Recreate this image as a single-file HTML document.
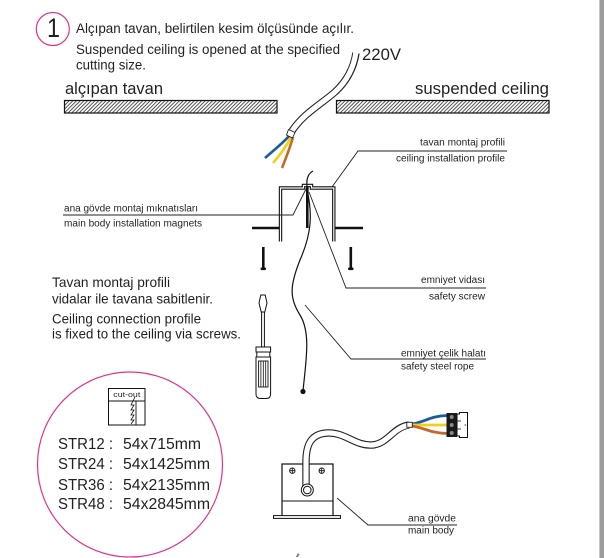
<!DOCTYPE html>
<html><head><meta charset="utf-8">
<style>
html,body{margin:0;padding:0;background:#fff;}
svg{display:block;}
text{font-family:"Liberation Sans",Arial,sans-serif;fill:#231f20;}
</style></head>
<body>
<svg width="604" height="558" viewBox="0 0 604 558" xmlns="http://www.w3.org/2000/svg">
<defs>
<pattern id="h" width="2.6" height="10" patternUnits="userSpaceOnUse" patternTransform="rotate(45)">
<line x1="0.6" y1="0" x2="0.6" y2="10" stroke="#1a1a1a" stroke-width="0.75"/>
</pattern>
</defs>
<rect x="0" y="0" width="604" height="558" fill="#fff"/>
<rect x="599" y="0" width="5" height="558" fill="#9c9c9c"/>
<rect x="599" y="0" width="1" height="558" fill="#c4c4c4"/>

<!-- step number -->
<circle cx="52.8" cy="29" r="16.5" fill="none" stroke="#e0338a" stroke-width="1.2"/>
<text x="47" y="36.8" font-size="27" textLength="13" lengthAdjust="spacingAndGlyphs">1</text>

<text x="76" y="33" font-size="13.5" textLength="278" lengthAdjust="spacingAndGlyphs">Alçıpan tavan, belirtilen kesim ölçüsünde açılır.</text>
<text x="76" y="54" font-size="13.5" textLength="264" lengthAdjust="spacingAndGlyphs">Suspended ceiling is opened at the specified</text>
<text x="76" y="69.3" font-size="13.5" textLength="70" lengthAdjust="spacingAndGlyphs">cutting size.</text>

<text x="65" y="94" font-size="16.5" textLength="98" lengthAdjust="spacingAndGlyphs">alçıpan tavan</text>
<text x="549" y="94" font-size="16.5" text-anchor="end" textLength="134" lengthAdjust="spacingAndGlyphs">suspended ceiling</text>
<text x="362" y="60" font-size="17" textLength="39" lengthAdjust="spacingAndGlyphs">220V</text>

<!-- ceiling bars -->
<rect x="64.5" y="100.5" width="212.5" height="12.5" fill="url(#h)" stroke="#111" stroke-width="1.2"/>
<rect x="336.5" y="100.5" width="212.5" height="12.5" fill="url(#h)" stroke="#111" stroke-width="1.2"/>

<!-- top cable -->
<path d="M356,53 C354,66 348,80 335,92 C320,105 303,114 292,131" fill="none" stroke="#222" stroke-width="7.4"/>
<path d="M356,52 C354,66 348,80 335,92 C320,105 303,114 292,131" fill="none" stroke="#fff" stroke-width="5.2"/>
<path d="M289,136 C283,143 274,150 265,158" fill="none" stroke="#1d5c9c" stroke-width="2.6"/>
<path d="M291,137 C287,145 280,155 273,163" fill="none" stroke="#f2cf1d" stroke-width="2.6"/>
<path d="M293,137 C290,148 286,158 282,168" fill="none" stroke="#c46a28" stroke-width="2.6"/>
<polygon points="288.5,129.5 295,132.5 292.5,138 286.5,135" fill="#fff" stroke="#222" stroke-width="0.9"/>

<!-- ceiling profile leader -->
<path d="M332,187 L358,151 H507" fill="none" stroke="#222" stroke-width="0.9"/>
<text x="505" y="145.5" font-size="10" text-anchor="end" textLength="85" lengthAdjust="spacingAndGlyphs">tavan montaj profili</text>
<text x="505" y="161.5" font-size="10" text-anchor="end" textLength="109" lengthAdjust="spacingAndGlyphs">ceiling installation profile</text>

<!-- profile -->
<line x1="252" y1="228" x2="280" y2="228" stroke="#111" stroke-width="2.4"/>
<line x1="334" y1="228" x2="363" y2="228" stroke="#111" stroke-width="2.4"/>
<path d="M280.5,241.5 V188 H303.5 V185.5 H311.5 V188 H333.8 V241.5" fill="none" stroke="#111" stroke-width="3.4"/>
<path d="M280.5,242 V188 H303.5 V185.5 H311.5 V188 H333.8 V242" fill="none" stroke="#fff" stroke-width="1.2"/>
<line x1="307.3" y1="187" x2="307.3" y2="228" stroke="#111" stroke-width="2.6"/>

<!-- side screws -->
<rect x="262" y="247" width="2.6" height="21" fill="#111"/>
<rect x="260.5" y="267.5" width="5.6" height="2.6" rx="1.2" fill="#111"/>
<rect x="349.5" y="247" width="2.6" height="21" fill="#111"/>
<rect x="348" y="267.5" width="5.6" height="2.6" rx="1.2" fill="#111"/>

<!-- steel rope -->
<path d="M313,171 C309,173 306,178 307,186 L307,190 C313,215 311,235 300,260 C290,285 289,298 300,315 C311,333 306,360 303,391" fill="none" stroke="#111" stroke-width="1.2"/>
<circle cx="303" cy="391.5" r="2.6" fill="#111"/>

<!-- magnets leader -->
<path d="M63,215 H293 L307,187" fill="none" stroke="#222" stroke-width="0.9"/>
<text x="64" y="211.5" font-size="10" textLength="134" lengthAdjust="spacingAndGlyphs">ana gövde montaj mıknatısları</text>
<text x="64" y="226.5" font-size="10" textLength="138" lengthAdjust="spacingAndGlyphs">main body installation magnets</text>

<!-- safety screw leader -->
<path d="M309,192 L346,288 H486" fill="none" stroke="#222" stroke-width="0.9"/>
<text x="485" y="283" font-size="10" text-anchor="end" textLength="64" lengthAdjust="spacingAndGlyphs">emniyet vidası</text>
<text x="485" y="299.5" font-size="10" text-anchor="end" textLength="56" lengthAdjust="spacingAndGlyphs">safety screw</text>

<!-- steel rope leader -->
<path d="M305,305 L351,359 H486" fill="none" stroke="#222" stroke-width="0.9"/>
<text x="486" y="356.5" font-size="10" text-anchor="end" textLength="85" lengthAdjust="spacingAndGlyphs">emniyet çelik halatı</text>
<text x="401" y="369.5" font-size="10" textLength="73" lengthAdjust="spacingAndGlyphs">safety steel rope</text>

<!-- instructions -->
<text x="52" y="287" font-size="13.7" textLength="118" lengthAdjust="spacingAndGlyphs">Tavan montaj profili</text>
<text x="52" y="303.5" font-size="13.7" textLength="161" lengthAdjust="spacingAndGlyphs">vidalar ile tavana sabitlenir.</text>
<text x="52" y="323.3" font-size="13.7" textLength="149" lengthAdjust="spacingAndGlyphs">Ceiling connection profile</text>
<text x="52" y="338.5" font-size="13.7" textLength="189" lengthAdjust="spacingAndGlyphs">is fixed to the ceiling via screws.</text>

<!-- screwdriver -->
<path d="M260.8,295 H265.2 L267,303 L264.8,312 H261.2 L259,303 Z" fill="#fff" stroke="#111" stroke-width="1"/>
<rect x="261.6" y="312" width="2.8" height="35" fill="#fff" stroke="#111" stroke-width="1"/>
<rect x="256" y="347" width="14.6" height="5" fill="#fff" stroke="#111" stroke-width="1"/>
<rect x="256.8" y="352" width="13" height="5" fill="#fff" stroke="#111" stroke-width="1"/>
<path d="M256,357 H270.6 V394 Q270.6,398.5 266,398.5 H260.6 Q256,398.5 256,394 Z" fill="#fff" stroke="#111" stroke-width="1"/>
<rect x="258.6" y="361" width="9.4" height="26" fill="none" stroke="#111" stroke-width="0.9"/>
<line x1="260.9" y1="361" x2="260.9" y2="387" stroke="#111" stroke-width="0.8"/>
<line x1="263.3" y1="361" x2="263.3" y2="387" stroke="#111" stroke-width="0.8"/>
<line x1="265.7" y1="361" x2="265.7" y2="387" stroke="#111" stroke-width="0.8"/>

<!-- cut-out circle -->
<circle cx="130" cy="464.5" r="92.5" fill="none" stroke="#e0338a" stroke-width="1.2"/>
<rect x="108.5" y="388.5" width="36.5" height="36.5" fill="#fff" stroke="#111" stroke-width="1"/>
<text x="126.8" y="397" font-size="7.2" text-anchor="middle" textLength="27" lengthAdjust="spacingAndGlyphs">cut-out</text>
<line x1="108.5" y1="401" x2="145" y2="401" stroke="#111" stroke-width="0.9"/>
<line x1="136" y1="401" x2="136" y2="425" stroke="#111" stroke-width="0.9"/>
<polyline points="135,397 131,405 134,405 131,410 134,410 131,415 134,415 131,420 134,420 131,424" fill="none" stroke="#111" stroke-width="0.8"/>

<text x="58" y="449" font-size="16" textLength="55" lengthAdjust="spacingAndGlyphs">STR12 :</text>
<text x="123" y="449" font-size="16" textLength="78" lengthAdjust="spacingAndGlyphs">54x715mm</text>
<text x="58" y="469" font-size="16" textLength="55" lengthAdjust="spacingAndGlyphs">STR24 :</text>
<text x="123" y="469" font-size="16" textLength="87" lengthAdjust="spacingAndGlyphs">54x1425mm</text>
<text x="58" y="490" font-size="16" textLength="55" lengthAdjust="spacingAndGlyphs">STR36 :</text>
<text x="123" y="490" font-size="16" textLength="87" lengthAdjust="spacingAndGlyphs">54x2135mm</text>
<text x="58" y="509" font-size="16" textLength="55" lengthAdjust="spacingAndGlyphs">STR48 :</text>
<text x="123" y="509" font-size="16" textLength="87" lengthAdjust="spacingAndGlyphs">54x2845mm</text>

<!-- main body -->
<rect x="282" y="464" width="51" height="53" fill="#fff" stroke="#111" stroke-width="1.2"/>
<line x1="282" y1="501" x2="333" y2="501" stroke="#111" stroke-width="1.1"/>
<rect x="273.5" y="515.6" width="67" height="2.8" fill="#fff" stroke="#111" stroke-width="1"/>
<circle cx="292.3" cy="470.7" r="2.7" fill="#fff" stroke="#111" stroke-width="0.9"/>
<path d="M290,470.7 H294.6 M292.3,468.4 V473" stroke="#111" stroke-width="0.8"/>
<circle cx="321.7" cy="470.7" r="2.7" fill="#fff" stroke="#111" stroke-width="0.9"/>
<path d="M319.4,470.7 H324 M321.7,468.4 V473" stroke="#111" stroke-width="0.8"/>

<!-- main body cable -->
<path d="M306,486 V462 C306,446 310,434 327,433 C345,432 355,446 372,445 C388,444 393,427 409,425" fill="none" stroke="#222" stroke-width="7.4"/>
<path d="M306,486 V462 C306,446 310,434 327,433 C345,432 355,446 372,445 C388,444 393,427 410,425" fill="none" stroke="#fff" stroke-width="5.2"/>
<circle cx="307.3" cy="490" r="6" fill="#fff" stroke="#111" stroke-width="1"/>
<circle cx="307.3" cy="490" r="3.8" fill="#fff" stroke="#111" stroke-width="1"/>

<path d="M412,424 C425,422 430,416 447,415.5" fill="none" stroke="#1d5c9c" stroke-width="2.8"/>
<path d="M412,425 C425,425 432,425 447,425" fill="none" stroke="#f2cf1d" stroke-width="2.8"/>
<path d="M412,426 C425,428 430,433 447,433.5" fill="none" stroke="#c46a28" stroke-width="2.8"/>
<rect x="406.8" y="422.3" width="5.5" height="5" fill="#fff" stroke="#222" stroke-width="0.9"/>

<!-- connector -->
<rect x="446.5" y="413" width="10.5" height="24" fill="#1a1a1a"/>
<circle cx="451.7" cy="417" r="2" fill="#888"/>
<circle cx="451.7" cy="425" r="2" fill="#888"/>
<circle cx="451.7" cy="433" r="2" fill="#888"/>
<path d="M457,414 H459.5 V412.5 H467.5 V437.5 H459.5 V436 H457 Z" fill="#fff" stroke="#111" stroke-width="1"/>
<line x1="457" y1="421" x2="461" y2="421" stroke="#111" stroke-width="0.8"/>
<line x1="457" y1="429" x2="461" y2="429" stroke="#111" stroke-width="0.8"/>
<circle cx="465.3" cy="425" r="0.9" fill="#777"/>

<!-- main body leader -->
<path d="M337,498 L368,525 H457" fill="none" stroke="#222" stroke-width="0.9"/>
<text x="456" y="521.7" font-size="10" text-anchor="end" textLength="48" lengthAdjust="spacingAndGlyphs">ana gövde</text>
<text x="408" y="533.7" font-size="10" textLength="46" lengthAdjust="spacingAndGlyphs">main body</text>

<!-- bottom fragment -->
<line x1="296.5" y1="557" x2="298.5" y2="553.5" stroke="#1d5c9c" stroke-width="1"/>
<line x1="297.5" y1="557" x2="299.3" y2="554" stroke="#c46a28" stroke-width="0.7"/>
</svg>
</body></html>
